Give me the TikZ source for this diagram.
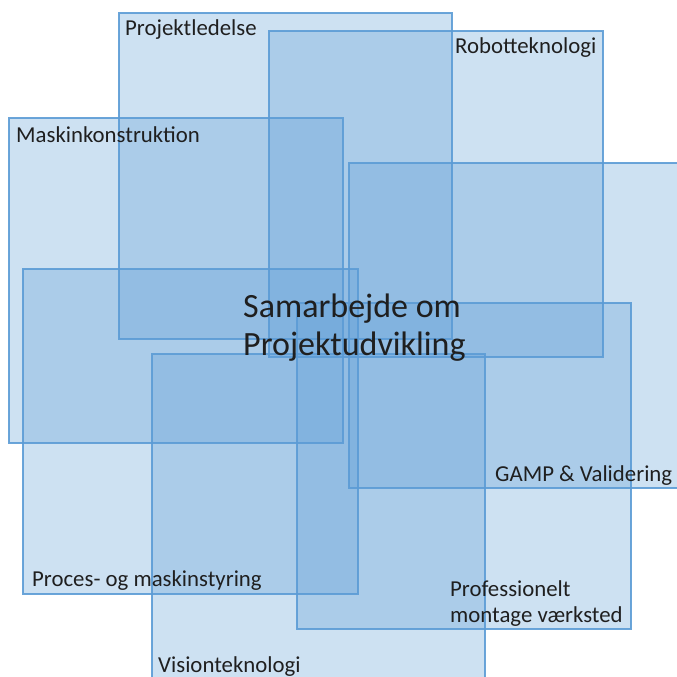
\documentclass[tikz,border=0pt]{standalone}
\usepackage{fontspec}
\setmainfont{Carlito}
\definecolor{boxblue}{HTML}{5B9BD5}
\begin{document}
\begin{tikzpicture}[x=1pt,y=-1pt,
  box/.style={fill=boxblue,fill opacity=0.3,draw=boxblue,draw opacity=0.9,line width=1.4pt},
  lbl/.style={anchor=base west,inner sep=0pt,font=\fontsize{22.8}{26}\selectfont,text=black!88,align=left},
  big/.style={anchor=base west,inner sep=0pt,font=\fontsize{34}{38}\selectfont,text=black!88,align=left}]
\useasboundingbox (0,0) rectangle (677,677);
\clip (0,0) rectangle (677,677);
\path[box] (119,13) rectangle (452,339);
\path[box] (269,31) rectangle (603,357);
\path[box] (9,118) rectangle (343,443);
\path[box] (349,163) rectangle (700,488);
\path[box] (23,269) rectangle (358,594);
\path[box] (297,303) rectangle (631,629);
\path[box] (152,354) rectangle (485,700);
\node[lbl] (pl) at (125,36) {Projektledelse};
\node[lbl] (rt) at (455,53) {Robotteknologi};
\node[lbl] (mk) at (16,142) {Maskinkonstruktion};
\node[big] (c1) at (243,317) {Samarbejde om};
\node[big] (c2) at (243,355) {Projektudvikling};
\node[lbl] (gv) at (495,481) {GAMP \& Validering};
\node[lbl] (pm) at (32,586) {Proces- og maskinstyring};
\node[lbl] (pv) at (450,622) {Professionelt\\montage værksted};
\node[lbl] (vt) at (158,672) {Visionteknologi};
\end{tikzpicture}
\end{document}
